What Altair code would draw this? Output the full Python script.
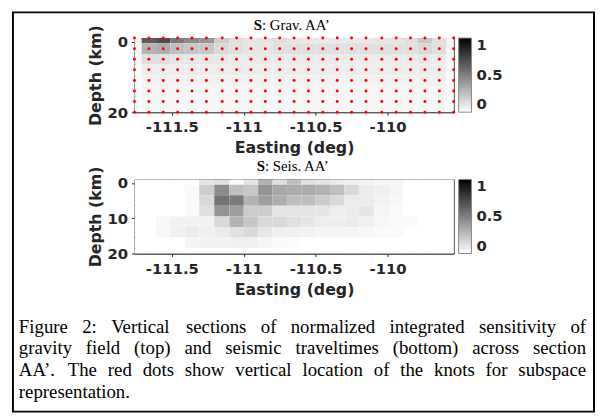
import altair as alt
import pandas as pd

# ---------------- data ----------------
easting = [-111.76, -111.66, -111.56, -111.46, -111.36, -111.26, -111.15, -111.05,
           -110.95, -110.85, -110.75, -110.65, -110.55, -110.45, -110.35, -110.25,
           -110.15, -110.04, -109.94, -109.84, -109.74, -109.64, -109.54]
depth = [-1, 2, 5, 8, 11, 14, 17, 20]
cell_depth = 3.0

grav = [
    [0.05, 0.64, 0.70, 0.52, 0.46, 0.42, 0.20, 0.12, 0.10, 0.10, 0.13, 0.10, 0.08, 0.08, 0.08, 0.08, 0.08, 0.10, 0.10, 0.12, 0.22, 0.12, 0.03],
    [0.04, 0.30, 0.32, 0.25, 0.22, 0.22, 0.15, 0.12, 0.10, 0.10, 0.12, 0.12, 0.12, 0.12, 0.12, 0.12, 0.12, 0.12, 0.12, 0.12, 0.15, 0.12, 0.04],
    [0.03, 0.12, 0.12, 0.10, 0.09, 0.09, 0.09, 0.08, 0.08, 0.08, 0.08, 0.08, 0.08, 0.08, 0.08, 0.08, 0.08, 0.08, 0.08, 0.08, 0.09, 0.08, 0.03],
    [0.02, 0.07, 0.07, 0.07, 0.07, 0.07, 0.07, 0.07, 0.07, 0.07, 0.07, 0.07, 0.07, 0.07, 0.07, 0.07, 0.07, 0.07, 0.07, 0.07, 0.07, 0.07, 0.02],
    [0.02, 0.05, 0.05, 0.05, 0.05, 0.05, 0.05, 0.05, 0.05, 0.05, 0.05, 0.05, 0.05, 0.05, 0.05, 0.05, 0.05, 0.05, 0.05, 0.05, 0.05, 0.05, 0.02],
    [0.02, 0.04, 0.04, 0.04, 0.04, 0.04, 0.04, 0.04, 0.04, 0.04, 0.04, 0.04, 0.04, 0.04, 0.04, 0.04, 0.04, 0.04, 0.04, 0.04, 0.04, 0.04, 0.02],
    [0.01, 0.035, 0.035, 0.035, 0.035, 0.035, 0.035, 0.035, 0.035, 0.035, 0.035, 0.035, 0.035, 0.035, 0.035, 0.035, 0.035, 0.035, 0.035, 0.035, 0.035, 0.035, 0.01],
    [0.01, 0.03, 0.03, 0.03, 0.03, 0.03, 0.03, 0.03, 0.03, 0.03, 0.03, 0.03, 0.03, 0.03, 0.03, 0.03, 0.03, 0.03, 0.03, 0.03, 0.03, 0.03, 0.01],
]

seis = [
    [0, 0, 0, 0, 0, 0.10, 0.12, 0.02, 0.10, 0.30, 0.12, 0.25, 0.12, 0.10, 0.08, 0.06, 0.05, 0.03, 0.04, 0, 0, 0, 0],
    [0, 0, 0, 0, 0.02, 0.20, 0.45, 0.25, 0.22, 0.42, 0.35, 0.33, 0.33, 0.30, 0.25, 0.15, 0.08, 0.06, 0.04, 0, 0, 0, 0],
    [0, 0, 0, 0, 0.02, 0.15, 0.55, 0.52, 0.30, 0.38, 0.32, 0.25, 0.25, 0.20, 0.15, 0.08, 0.08, 0.05, 0.03, 0, 0, 0, 0],
    [0, 0, 0, 0, 0.02, 0.12, 0.42, 0.38, 0.20, 0.20, 0.10, 0.10, 0.10, 0.10, 0.07, 0.08, 0.10, 0.04, 0.02, 0, 0, 0, 0],
    [0, 0, 0.03, 0.05, 0.05, 0.05, 0.15, 0.30, 0.22, 0.15, 0.15, 0.12, 0.10, 0.07, 0.07, 0.08, 0.06, 0.03, 0.02, 0.02, 0, 0, 0],
    [0, 0, 0.03, 0.06, 0.08, 0.06, 0.08, 0.12, 0.15, 0.10, 0.06, 0.06, 0.05, 0.04, 0.04, 0.04, 0.03, 0.02, 0.02, 0, 0, 0, 0],
    [0, 0, 0, 0, 0.04, 0.05, 0.05, 0.06, 0.06, 0.04, 0.02, 0.01, 0, 0, 0, 0, 0, 0, 0, 0, 0, 0, 0],
    [0, 0, 0, 0, 0, 0, 0, 0, 0, 0, 0, 0, 0, 0, 0, 0, 0, 0, 0, 0, 0, 0, 0],
]

x_ticks = [-111.5, -111.0, -110.5, -110.0]
y_ticks = [0, 10, 20]
cbar_ticks = [0, 0.5, 1]

title_grav = ": Grav. AA\u2019"
title_seis = ": Seis. AA\u2019"
caption = [
    "Figure 2: Vertical sections of normalized integrated sensitivity of",
    "gravity field (top) and seismic traveltimes (bottom) across section",
    "AA\u2019. The red dots show vertical location of the knots for subspace",
    "representation.",
]

# ---------------- tables ----------------
mids = [(a + b) / 2 for a, b in zip(easting[:-1], easting[1:])]
x_lo = [easting[0] - (mids[0] - easting[0])] + mids
x_hi = mids + [easting[-1] + (easting[-1] - mids[-1])]


def grid(mat):
    rows = []
    for i, d in enumerate(depth):
        for j, e in enumerate(easting):
            rows.append(dict(e=e, d=d, x0=x_lo[j], x1=x_hi[j],
                             y0=d - cell_depth / 2, y1=d + cell_depth / 2, v=mat[i][j]))
    return pd.DataFrame(rows)


knots = pd.DataFrame([dict(e=e, d=d) for d in depth for e in easting])

# caption word layout (Times metrics, justified like the typeset caption)
CAP_FS = 19
CAP_W = 574
TIMES = {" ": 250, "(": 333, ")": 333, ",": 250, "-": 333, ".": 250, ":": 278,
         "\u2019": 333, "'": 180, "2": 500,
         "A": 722, "F": 556, "T": 611, "V": 722,
         "a": 444, "b": 500, "c": 444, "d": 500, "e": 444, "f": 333, "g": 500,
         "h": 500, "i": 278, "j": 278, "k": 500, "l": 278, "m": 778, "n": 500,
         "o": 500, "p": 500, "q": 500, "r": 333, "s": 389, "t": 278, "u": 500,
         "v": 500, "w": 722, "x": 500, "y": 500, "z": 444}


def text_w(s):
    return sum(TIMES.get(ch, 500) for ch in s) * CAP_FS / 1000.0


cap_rows = []
for li, line in enumerate(caption):
    words = line.split(" ")
    widths = [text_w(w) for w in words]
    if li < len(caption) - 1 and len(words) > 1:
        gap = (CAP_W - sum(widths)) / (len(words) - 1)
    else:
        gap = text_w(" ")
    pos = 0.0
    for w, wd in zip(words, widths):
        cap_rows.append(dict(line=li, word=w, pos=pos))
        pos += wd + gap
cap_df = pd.DataFrame(cap_rows)

# ---------------- style ----------------
FONT = "DejaVu Sans"
SERIF = "Liberation Serif"
INK = "#262626"
W, H = 323, 75

xs = alt.Scale(domain=[easting[0], easting[-1]], nice=False, zero=False)
ys = alt.Scale(domain=[depth[0], depth[-1]], nice=False, zero=False, reverse=True)
cs = alt.Scale(domain=[0, 1], range=["#ffffff", "#000000"], interpolate="rgb")


def x_axis():
    return alt.Axis(title="Easting (deg)", values=x_ticks, labelExpr="'' + datum.value",
                    grid=False, labelFont=FONT, labelFontWeight="bold", labelFontSize=15,
                    labelColor=INK, titleFont=FONT, titleFontWeight="bold", titleFontSize=16,
                    titleColor=INK, domainColor=INK, tickColor=INK, tickSize=3,
                    labelPadding=5, titlePadding=5, labelFlush=False)


def y_axis():
    return alt.Axis(title="Depth (km)", values=y_ticks, grid=False, labelFont=FONT,
                    labelFontWeight="bold", labelFontSize=15, labelColor=INK,
                    titleFont=FONT, titleFontWeight="bold", titleFontSize=16,
                    titleColor=INK, domainColor=INK, tickColor=INK, tickSize=3,
                    labelPadding=4, titlePadding=4, labelFlush=False)


def legend():
    return alt.Legend(orient="none", legendX=W + 5, legendY=0, direction="vertical",
                      type="gradient", gradientLength=H, gradientThickness=13,
                      values=cbar_ticks, labelExpr="'' + datum.value",
                      labelFont=FONT, labelFontWeight="bold",
                      labelFontSize=15, labelColor=INK, labelOffset=5,
                      gradientStrokeColor="#888888", gradientStrokeWidth=1, title=None)


def heat(df):
    return alt.Chart(df).mark_rect(clip=True).encode(
        x=alt.X("x0:Q", scale=xs, axis=x_axis()),
        x2="x1:Q",
        y=alt.Y("y0:Q", scale=ys, axis=y_axis()),
        y2="y1:Q",
        color=alt.Color("v:Q", scale=cs, legend=legend()),
    )


def title_marks(rest, split_x):
    one = alt.Data(values=[{"k": 0}])
    s = alt.Chart(one).mark_text(text="S", font=SERIF, fontSize=15, fontWeight="bold",
                                 align="right", baseline="middle", color="black").encode(
        x=alt.value(split_x), y=alt.value(-13))
    r = alt.Chart(one).mark_text(text=rest, font=SERIF, fontSize=15, align="left",
                                 baseline="middle", color="black").encode(
        x=alt.value(split_x), y=alt.value(-13))
    return [s, r]


dots = alt.Chart(knots).mark_circle(color="#ff0000", size=9, opacity=1, clip=False).encode(
    x=alt.X("e:Q", scale=xs), y=alt.Y("d:Q", scale=ys))

view = alt.ViewBackground(stroke=INK, strokeWidth=1)

p1 = alt.layer(heat(grid(grav)), dots, *title_marks(title_grav, 129)).properties(
    width=W, height=H, view=view)
p2 = alt.layer(heat(grid(seis)), *title_marks(title_seis, 132)).properties(
    width=W, height=H, view=view)

cap_text = alt.Chart(cap_df).mark_text(align="left", baseline="alphabetic", font=SERIF,
                                       fontSize=CAP_FS, color="black").encode(
    x=alt.X("pos:Q", scale=alt.Scale(domain=[0, CAP_W], range=[-117, -117 + CAP_W]), axis=None),
    y=alt.Y("line:Q", scale=alt.Scale(domain=[0, 3], range=[12, 78]), axis=None),
    text="word:N",
)
border = alt.Chart(alt.Data(values=[{"k": 0}])).mark_rect(
    filled=False, color="black", strokeWidth=2, clip=False).encode(
    x=alt.value(-123), x2=alt.value(465), y=alt.value(-312), y2=alt.value(92))
p3 = alt.layer(cap_text, border).properties(
    width=W, height=80, view=alt.ViewBackground(stroke="transparent"))

chart = alt.vconcat(p1, p2, p3, spacing=68, bounds="flush").resolve_scale(
    color="independent"
).properties(
    padding={"left": 3, "top": 0, "right": 0, "bottom": 0}
).configure_view(stroke="transparent").configure(background="white")

chart.save("out.html", embed_options={"renderer": "svg", "actions": False})
